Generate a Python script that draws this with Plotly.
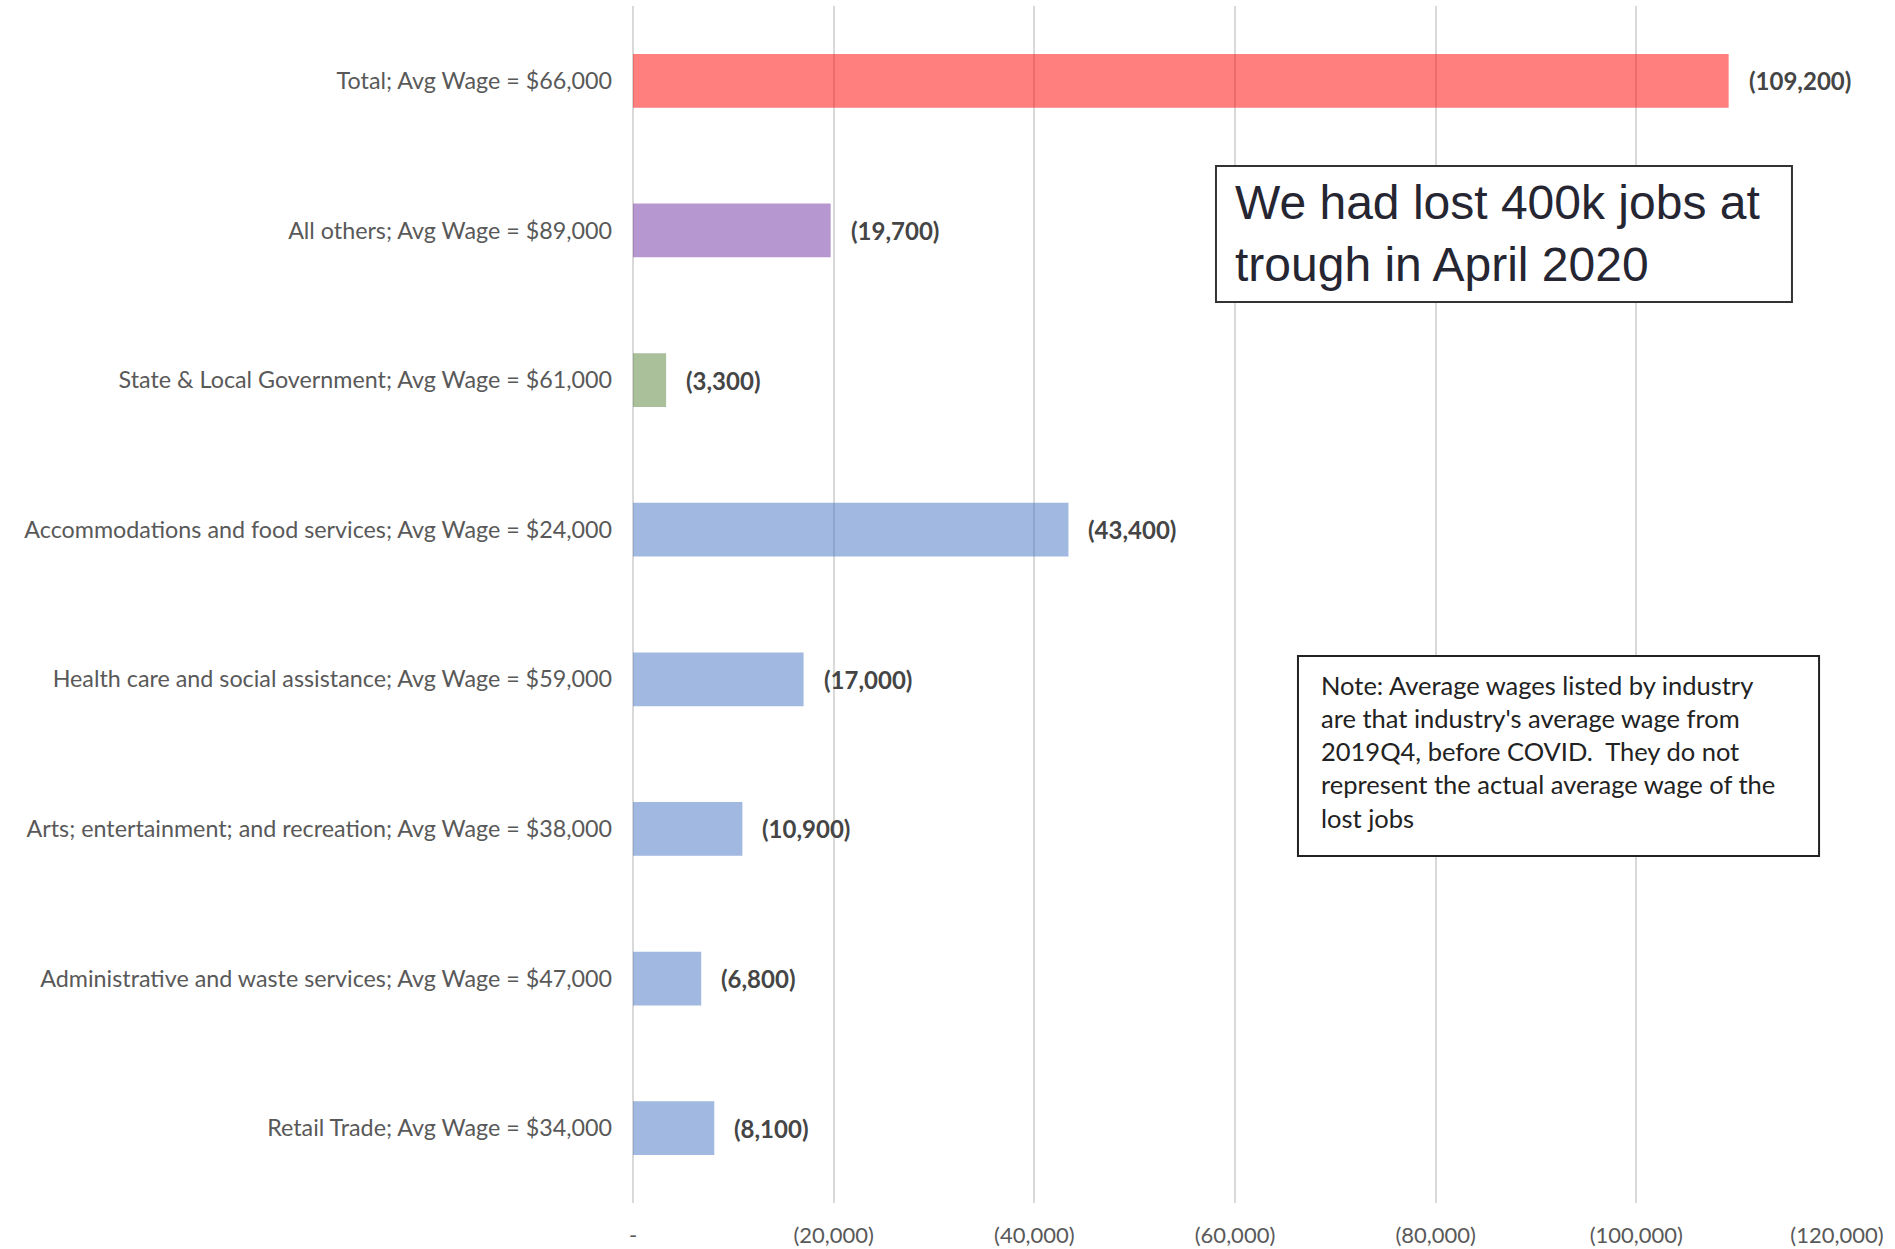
import plotly.graph_objects as go

categories = [
    "Total; Avg Wage = $66,000",
    "All others; Avg Wage = $89,000",
    "State & Local Government; Avg Wage = $61,000",
    "Accommodations and food services; Avg Wage = $24,000",
    "Health care and social assistance; Avg Wage = $59,000",
    "Arts; entertainment; and recreation; Avg Wage = $38,000",
    "Administrative and waste services; Avg Wage = $47,000",
    "Retail Trade; Avg Wage = $34,000",
]
jobs_change = [-109200, -19700, -3300, -43400, -17000, -10900, -6800, -8100]
bar_colors = [
    "rgba(255,0,0,0.5)",
    "rgba(112,48,160,0.5)",
    "rgba(84,130,53,0.5)",
    "rgba(68,114,196,0.5)",
    "rgba(68,114,196,0.5)",
    "rgba(68,114,196,0.5)",
    "rgba(68,114,196,0.5)",
    "rgba(68,114,196,0.5)",
]
tick_vals = [0, -20000, -40000, -60000, -80000, -100000, -120000]
tick_text = ["-", "(20,000)", "(40,000)", "(60,000)", "(80,000)", "(100,000)", "(120,000)"]

headline_text = "We had lost 400k jobs at<br>trough in April 2020"
note_text = ("Note: Average wages listed by industry<br>"
             "are that industry's average wage from<br>"
             "2019Q4, before COVID.  They do not<br>"
             "represent the actual average wage of the<br>"
             "lost jobs")

BODY_FONT = "Lato"

fig = go.Figure()
fig.add_trace(go.Bar(
    x=jobs_change,
    y=categories,
    orientation="h",
    marker=dict(color=bar_colors, line=dict(width=0)),
    width=0.36,
    showlegend=False,
    hoverinfo="skip",
))

annotations = []
for cat, v in zip(categories, jobs_change):
    annotations.append(dict(
        x=v, y=cat, xref="x", yref="y",
        text=f"<b>({abs(v):,})</b>",
        showarrow=False, xanchor="left", xshift=18,
        font=dict(family=BODY_FONT, size=24, color="#454545"),
    ))

annotations.append(dict(
    xref="paper", yref="paper", x=0.4983, y=0.8596,
    xanchor="left", yanchor="top",
    text=headline_text,
    showarrow=False, align="left",
    font=dict(family="Liberation Sans, Arial", size=48, color="#262633"),
))
annotations.append(dict(
    xref="paper", yref="paper", x=0.5698, y=0.4470,
    xanchor="left", yanchor="top",
    text=note_text,
    showarrow=False, align="left",
    font=dict(family=BODY_FONT, size=25.5, color="#222222"),
))

shapes = [
    dict(type="rect", xref="paper", yref="paper",
         x0=0.4842, x1=0.9626, y0=0.7527, y1=0.8663,
         line=dict(color="#333333", width=2), fillcolor="white", layer="above"),
    dict(type="rect", xref="paper", yref="paper",
         x0=0.5523, x1=0.9851, y0=0.2899, y1=0.4570,
         line=dict(color="#222222", width=2), fillcolor="white", layer="above"),
]

fig.update_layout(
    width=1895, height=1249,
    margin=dict(l=633, r=58, t=6, b=46, autoexpand=False),
    plot_bgcolor="white", paper_bgcolor="white",
    bargap=0.64,
    annotations=annotations,
    shapes=shapes,
    xaxis=dict(
        range=[0, -120000],
        tickvals=tick_vals, ticktext=tick_text,
        showgrid=True, gridcolor="#d9d9d9", gridwidth=2,
        zeroline=True, zerolinecolor="#d9d9d9", zerolinewidth=2,
        showline=False, automargin=False,
        tickfont=dict(family=BODY_FONT, size=22, color="#595959"),
        ticklabelstandoff=17,
    ),
    yaxis=dict(
        autorange="reversed",
        showgrid=False, zeroline=False, showline=False, automargin=False,
        tickfont=dict(family=BODY_FONT, size=23.3, color="#595959"),
        ticklabelstandoff=20,
    ),
)

fig.write_html("out.html", config={"displayModeBar": False},
               post_script="document.body.style.margin='0';")
